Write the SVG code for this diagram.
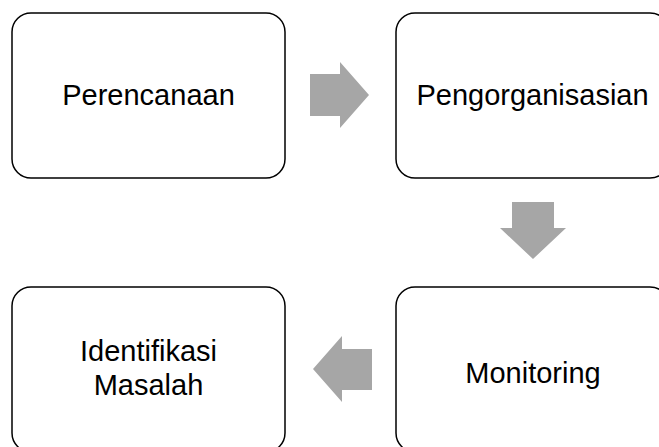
<svg xmlns="http://www.w3.org/2000/svg" width="659" height="447" viewBox="0 0 659 447">
<style>
.box{fill:#fff;stroke:#000;stroke-width:1.5}
.lbl{font-family:"Liberation Sans",Arial,sans-serif;font-size:29px;fill:#000;text-anchor:middle}
.arr{fill:#a6a6a6;stroke:none}
</style>
<rect width="659" height="447" fill="#fff"/>
<g id="perencanaan">
<rect class="box" x="12" y="13" width="273" height="165" rx="19"/>
<text class="lbl" x="148.5" y="105">Perencanaan</text>
</g>
<g id="pengorganisasian">
<rect class="box" x="396" y="13" width="273" height="165" rx="19"/>
<text class="lbl" x="532.5" y="105">Pengorganisasian</text>
</g>
<g id="monitoring">
<rect class="box" x="396" y="287" width="273" height="165" rx="19"/>
<text class="lbl" x="533" y="383">Monitoring</text>
</g>
<g id="identifikasi">
<rect class="box" x="12" y="287" width="273" height="165" rx="19"/>
<text class="lbl" x="148.5" y="361">Identifikasi</text>
<text class="lbl" x="148.5" y="395">Masalah</text>
</g>
<g id="connectors">
<polygon class="arr" points="310,74 340,74 340,62 369,95 340,128 340,116 310,116"/>
<polygon class="arr" points="512,202 554,202 554,228 566,228 533,259 500,228 512,228"/>
<polygon class="arr" points="372,349 342,349 342,336 313,369 342,402 342,390 372,390"/>
</g>
</svg>
